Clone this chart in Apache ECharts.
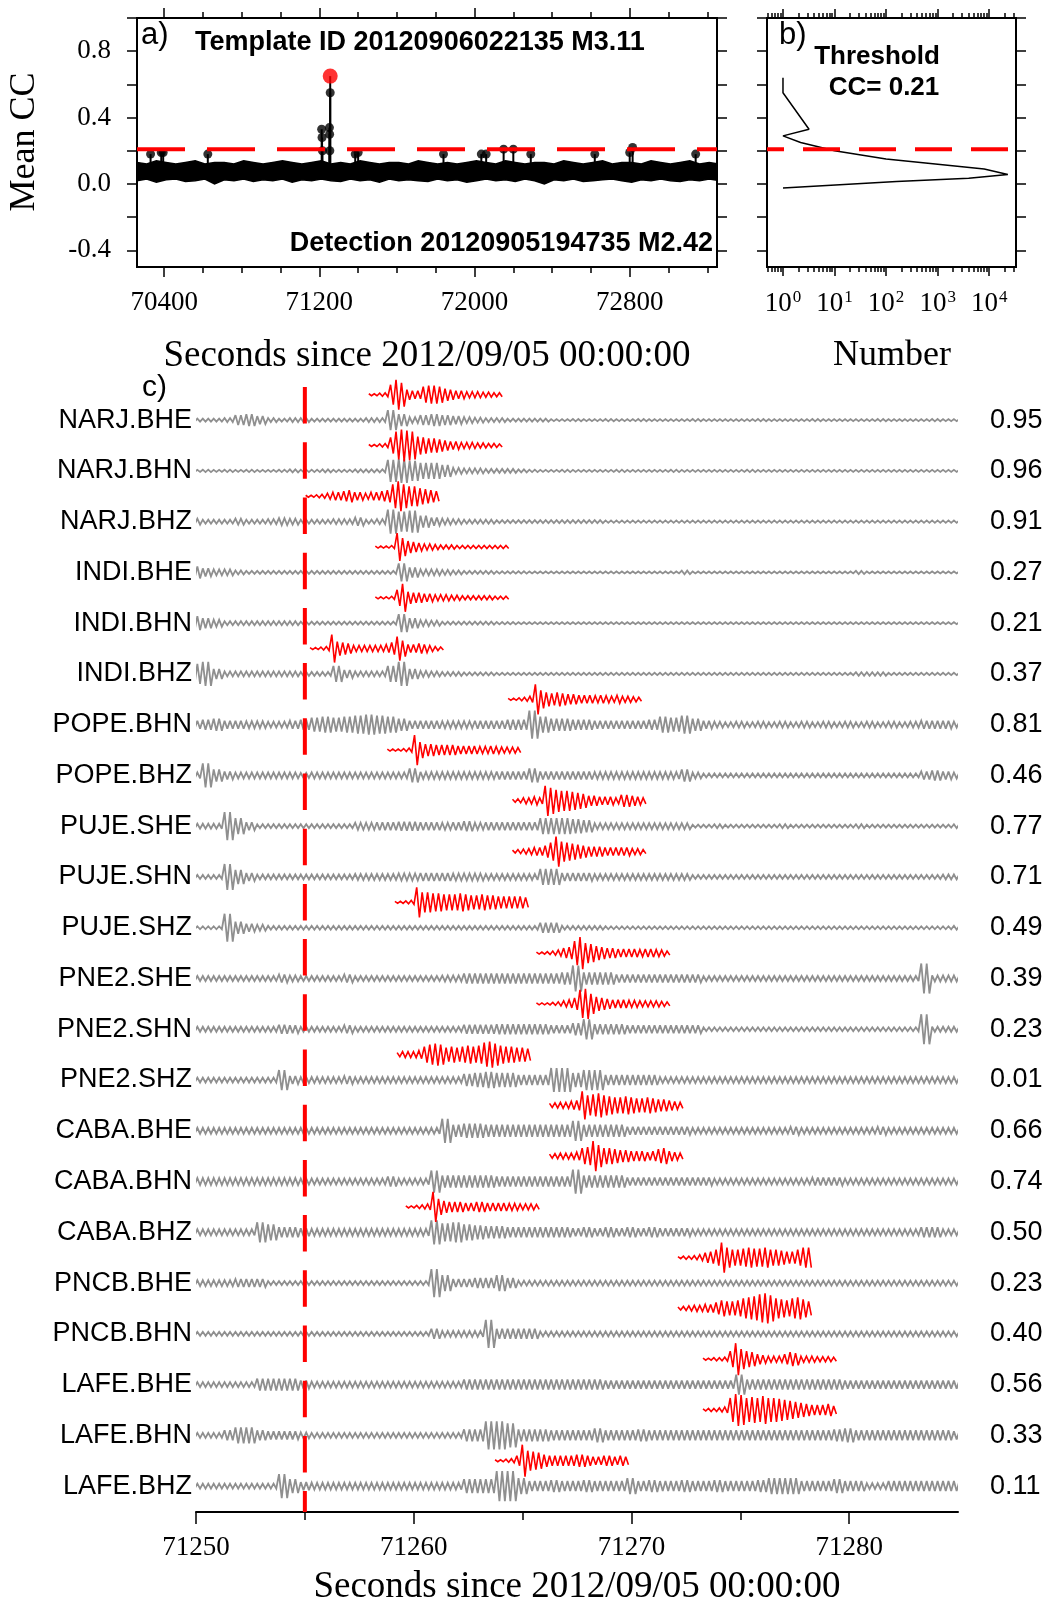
<!DOCTYPE html>
<html><head><meta charset="utf-8">
<script src="https://cdn.jsdelivr.net/npm/echarts@6/dist/echarts.min.js"></script>
<style>html,body{margin:0;padding:0;background:#fff}#c{width:1049px;height:1604px}</style>
</head><body><div id="c"></div>
<script>
// ================= DATA =================
// Panel a: mean CC time series (band envelope every 50 s) and local peaks
const ccBandStart = 70260, ccBandStep = 50;
const ccUpper = [0.13,0.12,0.14,0.13,0.12,0.13,0.14,0.12,0.13,0.13,0.12,0.14,0.13,0.12,0.13,0.14,0.13,0.12,0.13,0.14,0.12,0.13,0.12,0.14,0.13,0.12,0.13,0.13,0.12,0.14,0.13,0.12,0.13,0.12,0.13,0.14,0.13,0.12,0.14,0.13,0.12,0.13,0.13,0.12,0.14,0.13,0.12,0.13,0.14,0.12,0.13,0.13,0.12,0.14,0.13,0.12,0.13,0.14,0.12,0.13,0.12];
const ccLower = [0.02,0.03,0.01,0.025,0.03,0.015,0.02,0.03,0.0,0.025,0.02,0.03,0.015,0.025,0.02,0.03,0.01,0.025,0.02,0.03,0.02,0.015,0.03,0.02,0.025,0.01,0.03,0.02,0.025,0.02,0.015,0.03,0.02,0.025,0.01,0.02,0.03,0.02,0.025,0.015,0.03,0.02,0.0,0.025,0.02,0.03,0.015,0.02,0.025,0.03,0.02,0.01,0.025,0.02,0.03,0.02,0.015,0.025,0.02,0.03,0.02];
const peakTimes  = [70330,70385,70395,70625,71212,71214,71216,71252,71253,71254,71256,71385,71400,71840,72035,72060,72150,72200,72290,72620,72800,72815,73140];
const peakValues = [0.18,0.19,0.19,0.18,0.33,0.28,0.20,0.34,0.30,0.20,0.55,0.18,0.19,0.18,0.18,0.18,0.21,0.21,0.18,0.18,0.19,0.22,0.18];
const detectTime = 71256, detectCC = 0.65;
const threshold = 0.21;
const xTicksA = [70400,71200,72000,72800];

// Panel b: histogram of mean CC
const histCC    = [0.64,0.55,0.33,0.29,0.25,0.20,0.15,0.12,0.09,0.057,0.035,0.015,-0.024];
const histCount = [1,1,3.2,1,2.2,10,100,900,8000,23000,4000,160,1];

// Panel c: stations, CC per channel, waveform envelopes
const stations = ['NARJ.BHE','NARJ.BHN','NARJ.BHZ','INDI.BHE','INDI.BHN','INDI.BHZ','POPE.BHN','POPE.BHZ','PUJE.SHE','PUJE.SHN','PUJE.SHZ','PNE2.SHE','PNE2.SHN','PNE2.SHZ','CABA.BHE','CABA.BHN','CABA.BHZ','PNCB.BHE','PNCB.BHN','LAFE.BHE','LAFE.BHN','LAFE.BHZ'];
const channelCC = ['0.95','0.96','0.91','0.27','0.21','0.37','0.81','0.46','0.77','0.71','0.49','0.39','0.23','0.01','0.66','0.74','0.50','0.23','0.40','0.56','0.33','0.11'];
const xTicksC = [71250,71260,71270,71280];
const detectionTimeC = 71255;
const traceStart = 71250, traceStep = 0.5;
// continuous data (gray): half-amplitude envelope, every 0.5 s
const grayAmp = [
 [1.5,1.5,1.5,2,5,6,4,2,1.5,2, 2,1.5,1.5,1.5,1.5,1.5,2,2,10,6, 3,5,6,5,4,3,2.5,2,2,1.5, 1.5,1.5,1.5,1,1,1.2,1,1,1.2,1, 1,1.2,1,1,1,1,1.2,1,1,1, 1,1,1.2,1,1,1,1,1.2,1,1, 1,1,1,1.2,1,1,1,1,1.2,1, 1],
 [1,1.2,1,1.2,1,1.2,1,1,1.2,1.5, 1.2,1.2,1.5,1.2,1.2,1.5,1.5,1.5,11,12, 10,8,8,6,3,2.5,2.5,2,2,2, 1.5,1.2,1,1,1.2,1,1,1,1,1.2, 1,1,1,1,1.2,1,1,1,1,1, 1,1.2,1,1,1,1,1,1,1,1, 1,1,1,1,1,1,1,1,1,1, 1],
 [3,2,2,2,3,2,2,2.5,3.5,3, 2,2,2,2.5,2.5,4,2,2.5,12,10, 11,6,4,3,2.5,2,2,2,1.5,1.5, 1.5,1.5,1.5,1.5,1.5,1.5,1.5,1.5,1.2,1.2, 1.2,1.2,1.2,1.2,1.2,1.2,1.2,1.2,1.2,1.2, 1.2,1.2,1.2,1.2,1.2,1.2,1.2,1.2,1.2,1.2, 1.2,1.2,1.2,1.2,1.2,1.2,1.2,1.2,1.2,1.2, 1.2],
 [6,4,3,3,2,1.5,1.5,1.5,1.5,1.5, 1.5,1.5,1.5,1.5,1.5,1.5,1.5,1.5,1.5,9, 5,3,3,2.5,2,1.5,1.5,1.5,1.2,1.2, 1.2,1,1,1,1,1,1,1,1,1, 1,1,1,1,1,1.8,1,1,1,1, 1,1,1,1,1,1,1,1,1,1, 1,1.6,1,1,1,1,1,1,1,1, 1],
 [7,5,3.5,2,2,2,2,2,2,2, 1.5,1.5,1.5,1.5,1.5,1.5,1.5,1.5,1.5,9, 5,3,2.5,1.5,1.5,1.5,1.5,1.5,1.2,1.2, 1,1,1,1,1,1,1,1,1,1, 1,1,1,1,1,1,1,1,1,1, 1,1,1,1,1,1,1,1,1,1, 1,1,1,1,1,1,1,1,1,1, 1],
 [10,12,5,2.5,2.5,2.5,2.5,2.5,2.5,2.5, 2,2,2,8,4,2.5,2.5,2.5,8,12, 5,3,2.5,2,2,1.5,1.5,1.5,1.2,1.2, 1.2,1.2,1.2,1.2,1.2,1.2,1.2,1.2,1.2,1.2, 1.2,1.2,1.2,1.2,1.2,1.2,1.2,1.2,1.2,1.2, 1.2,1.2,1.2,1.2,1.2,1.2,1.2,1.2,1.2,1.2, 1.2,1.8,1.8,1.8,1.2,1.2,1.2,1.2,1.2,1.2, 1.2],
 [4,5,6,4,4,3.5,3.5,3,3,4, 5,7,8,7,8,9,10,9,8,6, 4,4,4,3.5,3.5,3.5,4,4,4,5, 5,14,8,6,6,5,5,4,4,4, 4,4,5,8,7,9,6,4,3,2.5, 3,2.5,3,2.5,3,2.5,3,2.5,3,2.5, 3,2.5,3,2.5,3,2.5,3,4,4,4, 3],
 [3,12,6,4,3,3,3,3,3,3, 2.5,3,3,3,3,3,3,3,3,3, 7,3.5,3.5,3.5,3.5,3.5,3.5,3.5,4,4, 4,7,4,4,4,4,4,3.5,3.5,3.5, 3.5,3.5,3.5,3.5,3.5,6,3,2,2,2, 2,2,2,2,2,2,2,2,2,2, 2,2,2,2,2,2,2,4,5,4, 3],
 [2.5,2.5,2.5,14,8,4,2,2,2,2, 2,2,2,2,2,3.5,3.5,4,4,4.5, 4.5,4,4,3.5,4,5,3.5,4,4,4, 4,4,8,8,8,7,6,3,3,3, 3,3,3,3,3,3,1.5,1.5,2,1.5, 1.5,1.5,1.5,1.5,2,1.5,1.5,1.5,1.5,1.5, 1.5,2,1.5,1.5,1.5,1.5,1.5,1.5,1.5,1.5, 2],
 [2,2,2,13,7,4,2.5,2.5,2.5,2.5, 2.5,2.5,2.5,2.5,2.5,3,3,3,3,3.5, 3.5,4,4,4,3.5,3.5,3.5,3,3,3, 3,3,8,8,4,4,4,3,3,3, 3,3,3,3,3,3,2,2,2,2, 2,2,2,2,2,2,2,2,2,2, 2,2,2,2,2,2,2,2,2,2.5, 2.5],
 [1.5,1.5,1.5,14,6,4,3,2,2,2, 2,2,2,2,2,2,2,2,2,2, 2,2,2,2,2,2,2,2,2,2, 2,2,5,5,2,2,2,2,1.5,1.5, 1.5,1.5,1.5,1.5,1.5,1.5,1.5,1.5,1.5,1.5, 1.5,1.5,1.5,1.5,1.5,1.5,1.5,1.5,1.5,1.5, 1.5,1.5,1.5,1.5,1.5,1.5,1.5,1.5,1.5,1.5, 2],
 [2.5,2.5,2.5,2.5,2.5,2.5,2.5,2.5,4,3, 2.5,2.5,2.5,2.5,4,2.5,2.5,2.5,2.5,2.5, 2.5,2.5,2.5,3,3,5,5,5,5,5, 5,5,5,5,6,13,6,6,6,4, 4,4,4,4,4,4,4,2.5,2.5,2.5, 2.5,2.5,2.5,2.5,2.5,2.5,2.5,2.5,2.5,2.5, 2.5,2.5,2.5,2.5,2.5,2.5,2.5,15,3,3, 3],
 [2.5,2.5,2.5,2.5,2.5,2.5,2.5,2.5,4.5,4, 2.5,2.5,2.5,2.5,4,2.5,2.5,2.5,2.5,2.5, 2.5,2.5,2.5,2.5,2.5,4.5,4.5,4.5,5,5, 5,5,5,4,4,6,10,5,5,5, 4,4,4,4,4,4,4,2,2,2, 2,2,2,2,2,2,2,2,2,2, 2,2,2,2,2,2,2,15,2.5,2.5, 2.5],
 [2.5,2.5,2.5,2.5,2.5,2.5,2.5,2.5,10,4, 3,3,3,3,4,3,3,3,3,3, 3,3,3,3,3,6,7,8,7,7, 5,5,5,12,12,7,10,10,5,5, 5,5,5,3,3,3,3,3,3,3, 3,3,3,3,3,3,3,3,3,3, 3,3,3,3,3,3,3,3,3,3, 3],
 [3,3,3,3,3,3,3,3,3,3, 3,3,3,3,3,3,3,3,3,3, 3,3,3,12,6,7,7,6,6,6, 6,6,6,6,6,10,6,6,6,6, 4,4,4,4,4,4,3,3,3,3, 3,3,3,3,3,4,3,3,3,3, 3,3,3,4,3,3,3,3,3,3, 3],
 [3.5,3.5,3.5,3.5,3.5,3.5,3.5,3.5,3.5,3.5, 3,3,3,3,3,3,3,3,5,3, 3,3,11,6,6,6,6,6,5,5, 5,5,5,5,5,12,6,6,6,6, 4,4,4,4,4,4,4,4,3,3, 3,3,3,3,3,3,3,4,4,4, 3,3,3,3,3,3,3,3,3,3, 3],
 [3,3,3,3,3,3,10,8,5,5, 4,3.5,3.5,3.5,3.5,3.5,3.5,3.5,3.5,3.5, 3.5,3.5,12,9,10,8,7,6,6,5, 5,5,5,5,5,4,5,4,5,4, 5,4,5,4,4,4,3,3,3,3, 3,3,3,3,3,3,3,3,3,3, 3,3,3,3,3,3,3,5,5,3, 3],
 [3,3,3,3,4,4,4,2,2,2, 2,2,2,2,2,2,2,2,2,2, 2,2,14,8,4,4,5,5,8,5, 2.5,2.5,2.5,2.5,2.5,2.5,2.5,2.5,2.5,2.5, 2.5,2.5,2.5,2.5,2.5,2.5,2.5,2.5,2.5,2.5, 2.5,2.5,2.5,2.5,2.5,2.5,2.5,2.5,2.5,2.5, 2.5,2.5,2.5,2.5,2.5,2.5,2.5,2.5,2.5,2.5, 2.5],
 [2,2,2,2,2,2,2,2,2,2, 2,2,2,2,2,2,2,2,2,2, 2,2,5,3,3,3,3,14,5,5, 5,5,2.5,2.5,2.5,2.5,2.5,2.5,2.5,2.5, 2.5,2.5,2.5,2.5,2.5,2.5,2.5,2.5,2.5,2.5, 2.5,2.5,2.5,2.5,2.5,2.5,2.5,2.5,2.5,2.5, 2.5,2.5,2.5,2.5,2.5,2.5,2.5,2.5,2.5,2.5, 2.5],
 [2.5,2.5,2.5,2.5,2.5,2.5,6,6,6,6, 4,3,3,3,3,3,3,3,3,3, 3,3,3,3,3,5,5,5,5,5, 5,5,5,5,5,5,5,5,4,4, 4,4,4,4,4,4,4,4,4,4, 10,5,5,5,5,5,5,5,5,5, 4,4,4,4,4,4,4,4,4,4, 4],
 [2.5,2.5,2.5,5,8,8,5,4,4,4, 3,2.5,2.5,2.5,2.5,2.5,2.5,2.5,2.5,2.5, 2.5,2.5,2.5,2.5,2.5,6,6,14,14,12, 6,6,6,5,5,5,5,7,5,5, 5,6,5,5,5,5,5,5,5,5, 5,5,5,5,5,5,5,5,5,6, 7,5,5,5,5,5,5,5,5,5, 4],
 [2.5,2.5,2.5,2.5,2.5,2.5,2.5,2.5,12,7, 4,3.5,3.5,3.5,3.5,3.5,3.5,3.5,3.5,3.5, 3.5,3.5,3.5,3.5,3.5,7,7,7,15,15, 8,5,5,6,5,5,6,5,5,5, 8,5,6,5,5,6,5,5,6,5, 5,5,6,8,8,8,5,5,5,7, 5,5,3,3,5,5,5,5,5,5, 5]
];
// template windows (red): start time per channel, envelope every 0.25 s
const redStart = [71258.0,71258.0,71255.1,71258.3,71258.3,71255.3,71264.4,71258.85,71264.6,71264.6,71259.2,71265.7,71265.7,71259.3,71266.3,71266.3,71259.7,71272.2,71272.2,71273.35,71273.35,71263.8];
const redStep = 0.25;
const redAmp = [
 [1,1,1.5,2,10,15,12,5,4,4,8,9,9,8,6,5,4,4,3,3,3,2.5,2.5,2,2],
 [1,1,1.5,2,8,14,16,15,14,9,8,7,7,6,5,4,4,3,3,3,2.5,2.5,2,2,1.5],
 [1,1,1.5,2,3,4,4,5,6,4,4,3,4,4,5,6,12,15,12,10,10,8,7,6,5],
 [1,1,1,1.5,14,9,6,5,4,3,3,2.5,2,2,2,1.5,1.5,1.5,1.5,1.5,1.5,1.5,1.5,1.5,1.5],
 [1,1,1,1.5,8,14,6,5,5,4,4,3,3,3,2.5,2.5,2,2,2,2,2,2,1.5,1.5,1.5],
 [1,1,1.5,2,14,7,6,5,3,3,3,3,3,3,4,6,12,8,4,4,5,4,3,2,1.5],
 [1,1,1.5,2,3,15,9,7,6,7,6,5,5,4,4,4,3.5,4,3.5,3,4,3,3,2.5,2],
 [1,1,1,1.5,2,15,8,6,6,5,5,5,5,4,4,4,4,3.5,3.5,4,3.5,3,3,3,2.5],
 [1.5,2,3,3,4,3,15,13,11,10,10,9,8,7,5,5,4,4,4,3,6,6,5,4,3],
 [1.5,2,2.5,3,4,4,6,9,15,10,9,8,7,6,5,5,5,4,4,4,4,4,3,3,2],
 [1,1,1.5,2,15,10,10,9,9,8,8,8,9,8,7,7,8,7,7,6,6,6,6,6,5],
 [1,1,1.5,2,3,5,6,12,16,10,9,7,6,5,5,4,4,4,4,3.5,4,4,3.5,3,2],
 [1,1,1,1.5,2,3,4,6,14,15,10,7,6,5,4,4,4,3.5,3.5,3,3,3,3,2.5,2],
 [2,3,3,3,4,8,10,11,10,7,8,7,8,9,8,9,12,13,11,9,8,8,7,7,6],
 [2,2.5,3,3,4,5,14,10,11,12,10,9,8,8,9,8,7,7,8,7,6,6,5,4,3],
 [2,2.5,3,3,3,4,8,9,15,11,8,8,7,6,6,5,5,5,4,5,7,8,5,4,3],
 [1,1,1.5,2,3,15,8,6,5,5,5,4,4,5,5,4,4,4,4,3.5,3.5,3,3,3,2.5],
 [1,1.5,1.5,2,3,5,6,8,15,10,8,8,9,10,9,9,10,8,8,7,6,6,8,10,10],
 [1.5,2,2.5,3,3,4,4,6,8,7,7,8,10,11,12,14,15,13,10,9,8,10,11,9,7],
 [1,1,1.5,1.5,2,8,16,10,8,7,5,4,3,3,3,5,7,6,3,3,3,2.5,2.5,2.5,2],
 [1,1.5,1.5,2,3,12,16,15,12,13,12,14,12,12,11,10,9,8,7,6,5,5,5,6,4],
 [1,1,1.5,2,5,16,10,9,8,6,5,5,5,5,5,6,6,5,4,4,5,5,4,5,4]
];

// ================= STYLE =================
const AMP_PER_UNIT = 1 / 50.75;   // envelope unit -> trace spacing
const RED_OFFSET = 0.5;           // template drawn half a spacing above
const GRAY = '#8f8f8f', RED = '#ff0000';
const SERIF = '"Liberation Serif","Times New Roman",serif';
const SANS = '"Liberation Sans",Arial,Helvetica,sans-serif';
const N = stations.length;

const chart = echarts.init(document.getElementById('c'), null, {renderer: 'canvas'});

function range(a, b, s) { const r = []; for (let v = a; v <= b + 1e-9; v += s) r.push(+v.toFixed(6)); return r; }
const yTicksA = range(-0.4, 1.0, 0.2);
const minorA = range(70400, 73200, 200);
const logMajor = [0,1,2,3,4];
const logMinor = [];
for (let n = -1; n <= 4; n++) for (let k = 2; k <= 9; k++) { const v = Math.log10(k * Math.pow(10, n)); if (v >= -0.31 && v <= 4.52) logMinor.push(v); }

const tickStyle = {lineStyle: {color: '#000', width: 1.5}};
function xAx(grid, pos, min, max, ticks, len, labels, extra) {
  return Object.assign({
    type: 'value', gridIndex: grid, position: pos, min: min, max: max,
    axisLine: {show: false, onZero: false}, splitLine: {show: false},
    axisTick: Object.assign({show: true, inside: false, length: len, customValues: ticks}, tickStyle),
    axisLabel: labels ? labels : {show: false}
  }, extra || {});
}
function yAx(grid, pos, min, max, ticks, len, labels) {
  return {
    type: 'value', gridIndex: grid, position: pos, min: min, max: max,
    axisLine: {show: false, onZero: false}, splitLine: {show: false},
    axisTick: ticks ? Object.assign({show: true, inside: false, length: len, customValues: ticks}, tickStyle) : {show: false},
    axisLabel: labels ? labels : {show: false}
  };
}

// waveform drawn as swings through its envelope (swings per sample)
function wiggle(api, t0, step, amps, base, swings) {
  const pts = [];
  const sub = step / (2 * swings);
  for (let i = 0; i < amps.length; i++) {
    const t = t0 + i * step, a = amps[i] * AMP_PER_UNIT;
    for (let j = 0; j < 2 * swings; j++) {
      const tt = t - step / 2 + sub * (j + 0.5);
      pts.push(api.coord([tt, j % 2 === 0 ? base + a : base - a]));
    }
  }
  return pts;
}

const option = {
  animation: false,
  backgroundColor: '#fff',
  grid: [
    {left: 137, top: 18, width: 580, height: 249, show: true, borderColor: '#000', borderWidth: 2, backgroundColor: 'transparent'},
    {left: 767, top: 18, width: 249, height: 249, show: true, borderColor: '#000', borderWidth: 2, backgroundColor: 'transparent'},
    {left: 196, top: 379, width: 762, height: 1133, show: false}
  ],
  xAxis: [
    xAx(0, 'bottom', 70260, 73250, xTicksA, 10, {show: true, customValues: xTicksA, formatter: v => String(v), margin: 22, color: '#000', fontFamily: SERIF, fontSize: 27}),
    xAx(0, 'bottom', 70260, 73250, minorA, 6),
    xAx(0, 'top', 70260, 73250, xTicksA, 10),
    xAx(0, 'top', 70260, 73250, minorA, 6),
    xAx(1, 'bottom', -0.31, 4.52, logMajor, 9, {show: true, customValues: logMajor, margin: 22, color: '#000', fontFamily: SERIF, fontSize: 27,
        formatter: v => '10{s|' + Math.round(v) + '}', rich: {s: {fontSize: 17, fontFamily: SERIF, verticalAlign: 'top', color: '#000', padding: [0, 0, 12, 1]}}}),
    xAx(1, 'bottom', -0.31, 4.52, logMinor, 5),
    xAx(1, 'top', -0.31, 4.52, logMajor, 9),
    xAx(1, 'top', -0.31, 4.52, logMinor, 5),
    xAx(2, 'bottom', 71250, 71285, xTicksC, 12, {show: true, customValues: xTicksC, formatter: v => String(v), margin: 22, color: '#000', fontFamily: SERIF, fontSize: 27},
        {axisLine: {show: true, onZero: false, lineStyle: {color: '#000', width: 2}}}),
    xAx(2, 'bottom', 71250, 71285, [71255, 71265, 71275], 8)
  ],
  yAxis: [
    yAx(0, 'left', -0.5, 1.0, yTicksA, 10, {show: true, customValues: [-0.4, 0, 0.4, 0.8], formatter: v => v.toFixed(1), margin: 26, color: '#000', fontFamily: SERIF, fontSize: 27}),
    yAx(0, 'right', -0.5, 1.0, yTicksA, 10),
    yAx(1, 'left', -0.5, 1.0, yTicksA, 10),
    yAx(1, 'right', -0.5, 1.0, yTicksA, 10),
    yAx(2, 'left', -0.51, 21.81, null, 0, {show: true, customValues: range(0, N - 1, 1), formatter: v => stations[N - 1 - Math.round(v)], margin: 4, color: '#000', fontFamily: SANS, fontSize: 27}),
    yAx(2, 'right', -0.51, 21.81, null, 0, {show: true, customValues: range(0, N - 1, 1), formatter: v => channelCC[N - 1 - Math.round(v)], margin: 32, color: '#000', fontFamily: SANS, fontSize: 27})
  ],
  series: [
    // ---- panel a ----
    {type: 'custom', xAxisIndex: 0, yAxisIndex: 0, clip: true, z: 2, data: [[ccBandStart, 0]],
     renderItem: (params, api) => {
       const top = [], bot = [];
       for (let i = 0; i < ccUpper.length; i++) {
         const t = ccBandStart + i * ccBandStep;
         top.push(api.coord([t, ccUpper[i]])); bot.push(api.coord([t, ccLower[i]]));
       }
       return {type: 'polygon', shape: {points: top.concat(bot.reverse())}, style: {fill: '#000', stroke: '#000', lineWidth: 1.5}};
     }},
    {type: 'custom', xAxisIndex: 0, yAxisIndex: 0, clip: true, z: 3,
     data: peakTimes.map((t, i) => [t, peakValues[i]]).concat([[detectTime, detectCC]]),
     renderItem: (params, api) => {
       const p0 = api.coord([api.value(0), 0.12]), p1 = api.coord([api.value(0), api.value(1)]);
       return {type: 'line', shape: {x1: p0[0], y1: p0[1], x2: p1[0], y2: p1[1]}, style: {stroke: '#000', lineWidth: 2}};
     }},
    {type: 'scatter', xAxisIndex: 0, yAxisIndex: 0, z: 4, symbolSize: 9, itemStyle: {color: '#000'},
     data: peakTimes.map((t, i) => [t, peakValues[i]])},
    {type: 'scatter', xAxisIndex: 0, yAxisIndex: 0, z: 5, symbolSize: 15, itemStyle: {color: RED},
     data: [[detectTime, detectCC]]},
    {type: 'line', xAxisIndex: 0, yAxisIndex: 0, z: 6, showSymbol: false, silent: true,
     lineStyle: {color: RED, width: 4, type: [48, 22]},
     data: [[70260, threshold], [73250, threshold]]},
    // ---- panel b ----
    {type: 'line', xAxisIndex: 4, yAxisIndex: 2, showSymbol: false, z: 3,
     lineStyle: {color: '#000', width: 1.5},
     data: histCount.map((c, i) => [Math.log10(c), histCC[i]])},
    {type: 'line', xAxisIndex: 4, yAxisIndex: 2, showSymbol: false, z: 4,
     lineStyle: {color: RED, width: 4, type: [37, 19], dashOffset: 20},
     data: [[-0.31, threshold], [4.52, threshold]]},
    // ---- panel c: continuous data ----
    {type: 'custom', xAxisIndex: 8, yAxisIndex: 4, clip: true, z: 2,
     data: stations.map((s, k) => [traceStart, N - 1 - k]),
     renderItem: (params, api) => {
       const k = params.dataIndex;
       return {type: 'polyline', shape: {points: wiggle(api, traceStart, traceStep, grayAmp[k], N - 1 - k, 2)},
               style: {fill: null, stroke: GRAY, lineWidth: 1.8, lineJoin: 'miter', miterLimit: 3}};
     }},
    // ---- panel c: templates ----
    {type: 'custom', xAxisIndex: 8, yAxisIndex: 4, clip: true, z: 3,
     data: stations.map((s, k) => [redStart[k], N - 1 - k + RED_OFFSET]),
     renderItem: (params, api) => {
       const k = params.dataIndex;
       return {type: 'polyline', shape: {points: wiggle(api, redStart[k], redStep, redAmp[k], N - 1 - k + RED_OFFSET, 1)},
               style: {fill: null, stroke: RED, lineWidth: 1.6, lineJoin: 'miter', miterLimit: 3}};
     }},
    {type: 'line', xAxisIndex: 8, yAxisIndex: 4, showSymbol: false, z: 5,
     lineStyle: {color: RED, width: 4, type: [36.5, 18.7]},
     data: [[detectionTimeC, 21.65], [detectionTimeC, -0.51]]}
  ],
  graphic: [
    {type: 'text', left: 141, top: 20, style: {text: 'a)', font: '31px ' + SANS, fill: '#000'}},
    {type: 'text', x: 195, y: 43, style: {text: 'Template ID 20120906022135 M3.11', font: 'bold 27px ' + SANS, fill: '#000', textAlign: 'left', textVerticalAlign: 'middle'}},
    {type: 'text', x: 713, y: 244, style: {text: 'Detection 20120905194735 M2.42', font: 'bold 27px ' + SANS, fill: '#000', textAlign: 'right', textVerticalAlign: 'middle'}},
    {type: 'text', x: 25, y: 142, rotation: Math.PI / 2, style: {text: 'Mean CC', font: '36px ' + SERIF, fill: '#000', textAlign: 'center', textVerticalAlign: 'middle'}},
    {type: 'text', x: 427, y: 356, style: {text: 'Seconds since 2012/09/05 00:00:00', font: '37px ' + SERIF, fill: '#000', textAlign: 'center', textVerticalAlign: 'middle'}},
    {type: 'text', left: 779, top: 20, style: {text: 'b)', font: '31px ' + SANS, fill: '#000'}},
    {type: 'text', x: 877, y: 57, style: {text: 'Threshold', font: 'bold 26px ' + SANS, fill: '#000', textAlign: 'center', textVerticalAlign: 'middle'}},
    {type: 'text', x: 884, y: 88, style: {text: 'CC= 0.21', font: 'bold 26px ' + SANS, fill: '#000', textAlign: 'center', textVerticalAlign: 'middle'}},
    {type: 'text', x: 892, y: 356, style: {text: 'Number', font: '36px ' + SERIF, fill: '#000', textAlign: 'center', textVerticalAlign: 'middle'}},
    {type: 'text', left: 142, top: 373, style: {text: 'c)', font: '30px ' + SANS, fill: '#000'}},
    {type: 'text', x: 577, y: 1587, style: {text: 'Seconds since 2012/09/05 00:00:00', font: '37px ' + SERIF, fill: '#000', textAlign: 'center', textVerticalAlign: 'middle'}}
  ]
};
chart.setOption(option);
</script>
</body></html>
